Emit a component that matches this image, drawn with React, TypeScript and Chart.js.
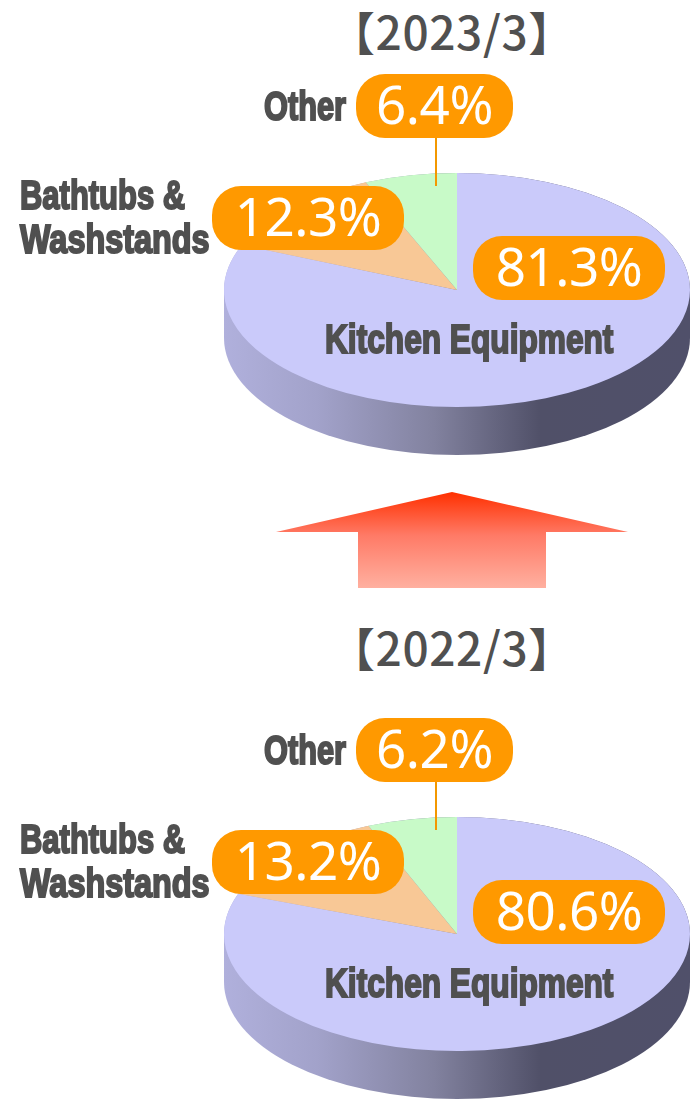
import React, { useEffect, useRef } from "react";
import { Chart, registerables } from "chart.js";

Chart.register(...registerables);

const categories = ["Kitchen Equipment", "Bathtubs & Washstands", "Other"];
const values2023 = [81.3, 12.3, 6.4];
const values2022 = [80.6, 13.2, 6.2];
const title2023 = "【2023/3】";
const title2022 = "【2022/3】";
const sliceColors = ["#CACAFA", "#F8C896", "#C8FAC8"];

const FACE_RY = 117;
const DEPTH = 48;
const FACE_CY = 290;

const tiltPlugin = {
  id: "tilt",
  beforeDatasetsDraw(chart: any) {
    const { ctx, chartArea } = chart;
    const cx = (chartArea.left + chartArea.right) / 2;
    const cy0 = (chartArea.top + chartArea.bottom) / 2;
    const rx = (chartArea.right - chartArea.left) / 2;
    const g = ctx.createLinearGradient(cx - rx, 0, cx + rx, 0);
    g.addColorStop(0, "#B0B0DC");
    g.addColorStop(0.2, "#A2A2CA");
    g.addColorStop(0.45, "#82829F");
    g.addColorStop(0.68, "#505068");
    g.addColorStop(1, "#50506A");
    ctx.save();
    ctx.fillStyle = g;
    ctx.beginPath();
    ctx.ellipse(cx, FACE_CY, rx, FACE_RY, 0, Math.PI, 0, false);
    ctx.lineTo(cx + rx, FACE_CY + DEPTH);
    ctx.ellipse(cx, FACE_CY + DEPTH, rx, FACE_RY, 0, 0, Math.PI, false);
    ctx.closePath();
    ctx.fill();
    ctx.restore();
    ctx.save();
    ctx.translate(cx, FACE_CY);
    ctx.scale(1, FACE_RY / rx);
    ctx.translate(-cx, -cy0);
  },
  afterDatasetsDraw(chart: any) {
    chart.ctx.restore();
  },
};

function Pie({ values, top }: { values: number[]; top: number }) {
  const ref = useRef<HTMLCanvasElement>(null);
  useEffect(() => {
    const chart = new Chart(ref.current!, {
      type: "pie",
      data: {
        labels: categories,
        datasets: [{ data: values, backgroundColor: sliceColors, borderWidth: 0 }],
      },
      options: {
        animation: false,
        responsive: false,
        events: [],
        layout: { padding: { left: 224, right: 2, top: 0, bottom: 0 } },
        plugins: { legend: { display: false }, tooltip: { enabled: false } },
      },
      plugins: [tiltPlugin],
    } as any);
    return () => chart.destroy();
  }, []);
  return (
    <canvas
      ref={ref}
      width={692}
      height={466}
      style={{ position: "absolute", left: 0, top, width: 692, height: 466 }}
    />
  );
}

const labelFont = '"Liberation Sans", sans-serif';
const numFont = '"Noto Sans", sans-serif';

function Label({ text, x, y, sx }: { text: string; x: number; y: number; sx: number }) {
  const size = 41;
  return (
    <div
      style={{
        position: "absolute",
        left: x,
        top: y,
        fontFamily: labelFont,
        fontWeight: 700,
        fontSize: size,
        lineHeight: `${size}px`,
        color: "#505050",
        WebkitTextStroke: "2.1px #505050",
        whiteSpace: "nowrap",
        transform: `scaleX(${sx})`,
        transformOrigin: "left center",
      }}
    >
      {text}
    </div>
  );
}

function PillBox({ text, x, y, w }: { text: string; x: number; y: number; w: number }) {
  return (
    <div
      style={{
        position: "absolute",
        left: x,
        top: y,
        width: w,
        height: 64,
        borderRadius: 29,
        background: "#FF9900",
        color: "#FFFFFF",
        fontFamily: numFont,
        fontWeight: 400,
        fontSize: 53,
        letterSpacing: -0.5,
        lineHeight: "60px",
        textAlign: "center",
        whiteSpace: "nowrap",
      }}
    >
      {text}
    </div>
  );
}

function Block({ values, offset }: { values: number[]; offset: number }) {
  return (
    <>
      <Pie values={values} top={offset} />
      <div style={{ position: "absolute", left: 435, top: offset + 138, width: 2, height: 48, background: "#F39800" }} />
      <Label text="Other" x={264} y={offset + 86} sx={0.75} />
      <Label text="Bathtubs &" x={20} y={offset + 175} sx={0.755} />
      <Label text="Washstands" x={20} y={offset + 219} sx={0.79} />
      <Label text="Kitchen Equipment" x={325} y={offset + 319} sx={0.772} />
      <PillBox text={`${values[2]}%`} x={356} y={offset + 74} w={157} />
      <PillBox text={`${values[1]}%`} x={212} y={offset + 186} w={192} />
      <PillBox text={`${values[0]}%`} x={473} y={offset + 236} w={192} />
    </>
  );
}

function Title({ text, top }: { text: string; top: number }) {
  return (
    <div
      style={{
        position: "absolute",
        left: 329,
        width: 222,
        top,
        textAlign: "center",
        fontFamily: '"Noto Sans CJK JP", sans-serif',
        fontWeight: 500,
        fontSize: 46,
        letterSpacing: 0.6,
        lineHeight: "50px",
        color: "#505050",
        whiteSpace: "nowrap",
      }}
    >
      {text}
    </div>
  );
}

export default function App() {
  return (
    <div style={{ position: "absolute", left: 0, top: 0, width: 692, height: 1103, overflow: "hidden", background: "#fff" }}>
      <Title text={title2023} top={5} />
      <Title text={title2022} top={621} />
      <Block values={values2023} offset={0} />
      <svg width={692} height={110} style={{ position: "absolute", left: 0, top: 485 }}>
        <defs>
          <linearGradient id="up" x1="0" y1="0" x2="0" y2="1">
            <stop offset="0" stopColor="#FF3000" />
            <stop offset="0.45" stopColor="#FF7A66" />
            <stop offset="1" stopColor="#FFB0A0" />
          </linearGradient>
        </defs>
        <polygon points="452,7 628,47 546,47 546,103 358,103 358,47 276,47" fill="url(#up)" />
      </svg>
      <Block values={values2022} offset={644} />
    </div>
  );
}
